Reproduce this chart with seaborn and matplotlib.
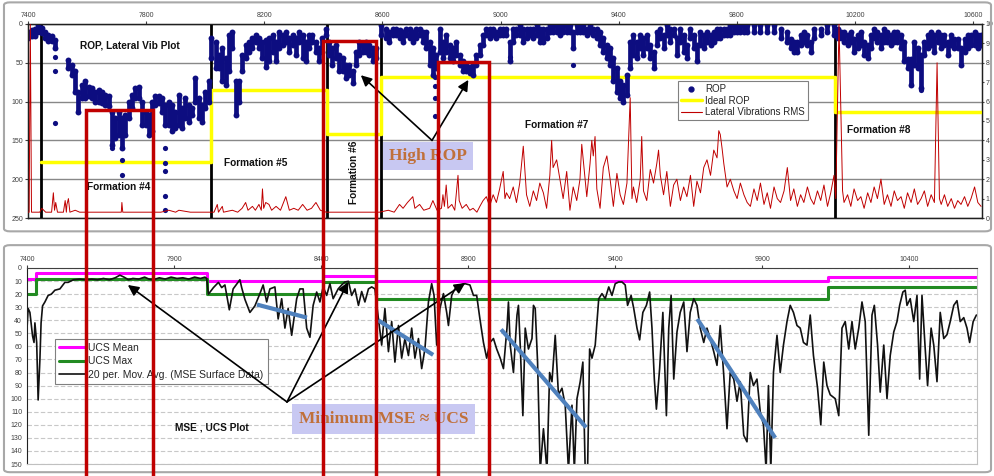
import matplotlib
matplotlib.use('Agg')
import matplotlib.pyplot as plt
import seaborn as sns
from matplotlib.lines import Line2D
from matplotlib.patches import Rectangle, FancyBboxPatch

sns.set_style('white')
plt.rcParams['font.family'] = ['Liberation Sans', 'DejaVu Sans']

# ---------------- top panel data: ROP (ft/hr) vs depth ----------------
rop_depth = [7401, 7413, 7424, 7435, 7447, 7458, 7469, 7481, 7492, 7537, 7548, 7560, 7571, 7582, 7594,
             7605, 7616, 7628, 7639, 7650, 7662, 7673, 7684, 7696, 7707, 7718, 7730, 7741, 7752, 7764,
             7775, 7786, 7798, 7809, 7820, 7831, 7843, 7854, 7865, 7877, 7888, 7899, 7911, 7922, 7933,
             7945, 7956, 7967, 7979, 7990, 8001, 8013, 8020, 8035, 8047, 8058, 8069, 8081, 8092, 8103,
             8114, 8126, 8137, 8148, 8160, 8171, 8182, 8194, 8205, 8216, 8228, 8239, 8250, 8262, 8273,
             8284, 8296, 8307, 8318, 8330, 8341, 8352, 8363, 8375, 8386, 8397, 8409, 8420, 8431, 8443,
             8454, 8465, 8477, 8488, 8499, 8511, 8522, 8533, 8545, 8556, 8567, 8579, 8596, 8613, 8624,
             8635, 8646, 8658, 8669, 8680, 8692, 8703, 8714, 8726, 8737, 8748, 8760, 8771, 8782, 8794,
             8805, 8816, 8828, 8839, 8850, 8862, 8873, 8884, 8896, 8907, 8918, 8929, 8941, 8952, 8963,
             8975, 8986, 8997, 9009, 9020, 9031, 9043, 9054, 9065, 9077, 9088, 9099, 9111, 9122, 9133,
             9145, 9156, 9167, 9178, 9190, 9201, 9212, 9224, 9235, 9246, 9258, 9269, 9280, 9292, 9303,
             9314, 9326, 9337, 9348, 9360, 9371, 9382, 9394, 9405, 9416, 9428, 9439, 9450, 9461, 9473,
             9484, 9495, 9507, 9518, 9529, 9541, 9552, 9563, 9575, 9586, 9597, 9609, 9620, 9631, 9643,
             9654, 9665, 9677, 9688, 9699, 9711, 9722, 9733, 9744, 9756, 9767, 9778, 9790, 9801, 9812,
             9824, 9835, 9858, 9880, 9903, 9926, 9948, 9971, 9982, 9993, 10005, 10016, 10027, 10039, 10050,
             10061, 10084, 10107, 10129, 10141, 10152, 10163, 10175, 10186, 10197, 10209, 10220, 10231, 10243, 10254,
             10265, 10276, 10288, 10299, 10310, 10322, 10333, 10344, 10356, 10367, 10378, 10390, 10401, 10412, 10424,
             10435, 10446, 10458, 10469, 10480, 10492, 10503, 10514, 10526, 10537, 10548, 10559, 10571, 10582, 10593,
             10605, 10616, 10627]
rop_low = [10, 8, 6, 1, 5, 10, 14, 16, 21, 46, 53, 61, 87, 78, 74,
           81, 83, 87, 85, 87, 91, 93, 113, 121, 113, 121, 117, 100, 91, 83,
           81, 100, 113, 117, 100, 93, 93, 96, 104, 100, 104, 113, 91, 108, 96,
           104, 108, 70, 96, 104, 87, 74, 18, 23, 40, 31, 44, 14, 10, 74,
           74, 40, 27, 23, 18, 14, 18, 23, 20, 18, 14, 23, 10, 14, 10,
           18, 14, 18, 10, 14, 23, 14, 14, 23, 31, 18, 6, 23, 31, 27,
           40, 44, 53, 53, 61, 36, 23, 27, 23, 27, 31, 31, 1, 6, 10,
           6, 6, 8, 10, 6, 6, 10, 6, 6, 10, 10, 23, 31, 40, 6,
           23, 14, 27, 31, 23, 40, 48, 53, 55, 53, 40, 27, 14, 6, 6,
           6, 10, 6, 6, 6, 23, 6, 6, 1, 6, 6, 6, 6, 1, 6,
           6, 6, 1, 1, 1, 1, 1, 1, 1, 10, 1, 1, 1, 6, 1,
           6, 6, 10, 18, 27, 31, 44, 57, 74, 79, 66, 23, 14, 23, 14,
           18, 14, 27, 36, 10, 6, 14, 1, 6, 6, 18, 6, 14, 27, 6,
           14, 27, 10, 14, 10, 14, 10, 6, 6, 6, 6, 1, 1, 1, 1,
           1, 1, 1, 1, 1, 1, 6, 10, 19, 23, 23, 14, 10, 14, 23,
           6, 6, 1, 1, 6, 10, 10, 14, 10, 19, 14, 10, 23, 27, 14,
           6, 10, 14, 6, 10, 14, 10, 10, 14, 23, 45, 45, 23, 31, 40,
           23, 14, 10, 14, 10, 14, 14, 23, 14, 19, 19, 31, 19, 14, 14,
           10, 14, 14]
rop_high = [18, 16, 16, 10, 12, 18, 22, 22, 31, 57, 66, 87, 113, 96, 96,
            93, 96, 100, 100, 102, 104, 106, 156, 147, 143, 160, 143, 121, 108, 96,
            96, 130, 130, 143, 138, 104, 102, 113, 130, 130, 138, 134, 130, 134, 121,
            126, 117, 100, 121, 126, 108, 100, 44, 57, 57, 74, 78, 61, 31, 117,
            100, 61, 44, 36, 31, 23, 31, 44, 55, 48, 36, 48, 31, 27, 23,
            36, 27, 40, 23, 44, 48, 31, 23, 36, 48, 36, 14, 40, 53, 44,
            61, 61, 70, 66, 76, 53, 40, 36, 36, 40, 48, 44, 14, 18, 23,
            14, 14, 18, 23, 14, 18, 23, 18, 14, 23, 31, 53, 66, 57, 36,
            44, 36, 44, 48, 40, 53, 61, 61, 63, 66, 53, 40, 27, 14, 18,
            14, 18, 14, 14, 14, 48, 23, 14, 14, 23, 18, 14, 18, 14, 23,
            23, 18, 10, 10, 10, 14, 10, 10, 10, 31, 10, 10, 10, 14, 10,
            14, 18, 27, 36, 44, 53, 74, 87, 96, 100, 91, 57, 40, 44, 31,
            40, 31, 44, 57, 27, 18, 31, 14, 23, 14, 40, 23, 36, 44, 18,
            31, 48, 27, 31, 23, 27, 23, 18, 18, 14, 14, 14, 10, 10, 10,
            10, 10, 10, 10, 10, 10, 18, 23, 31, 36, 36, 27, 23, 27, 36,
            18, 14, 10, 14, 18, 18, 23, 27, 23, 36, 31, 27, 40, 44, 31,
            18, 23, 31, 23, 23, 27, 23, 23, 31, 48, 57, 78, 53, 57, 83,
            40, 31, 27, 36, 23, 31, 27, 40, 27, 31, 31, 53, 36, 31, 27,
            27, 31, 27]
rop_stray_depth = [7492, 7492, 7492, 7684, 7718, 7718, 7865, 7865, 7865, 7865, 7865,
                   8777, 8777, 8777, 8777, 9031, 9246, 10424]
rop_stray_val = [43, 61, 128, 160, 175, 194, 160, 179, 190, 222, 240,
                 68, 80, 96, 119, 42, 53, 85]

# Ideal ROP per formation
form_tops = [7443, 8020, 8414, 8596, 10133]
ideal_depth = [7443, 8020, 8414, 8596, 10133, 10630]
ideal_rop = [178, 85, 142, 68, 113, 113]

# lateral vibrations RMS (right axis, g)
vib_depth = [7400, 7404, 7408, 7412, 7440, 7447, 7460, 7480, 7486, 7490, 7494, 7500, 7520, 7526, 7530,
             7532, 7537, 7542, 7560, 7575, 7600, 7650, 7700, 7716, 7718, 7721, 7780, 7850, 7877, 7900,
             7911, 7950, 8000, 8030, 8041, 8045, 8058, 8062, 8092, 8110, 8125, 8137, 8145, 8160, 8170,
             8182, 8190, 8194, 8198, 8205, 8216, 8225, 8240, 8255, 8273, 8278, 8285, 8300, 8315, 8330,
             8345, 8360, 8375, 8390, 8410, 8450, 8500, 8550, 8590, 8620, 8640, 8658, 8670, 8685, 8703,
             8710, 8726, 8740, 8760, 8771, 8785, 8800, 8805, 8810, 8816, 8822, 8835, 8845, 8856, 8860,
             8870, 8884, 8896, 8907, 8920, 8930, 8941, 8952, 8963, 8975, 8986, 8997, 9009, 9015, 9020,
             9031, 9043, 9054, 9065, 9077, 9088, 9099, 9111, 9122, 9133, 9145, 9156, 9167, 9173, 9178,
             9190, 9201, 9212, 9224, 9235, 9246, 9258, 9269, 9275, 9292, 9303, 9309, 9314, 9320, 9326,
             9337, 9348, 9360, 9371, 9382, 9394, 9405, 9416, 9428, 9439, 9445, 9450, 9461, 9473, 9478,
             9484, 9495, 9507, 9518, 9529, 9535, 9541, 9552, 9563, 9575, 9586, 9597, 9609, 9620, 9631,
             9643, 9654, 9665, 9677, 9688, 9699, 9711, 9722, 9733, 9739, 9744, 9750, 9756, 9767, 9778,
             9790, 9801, 9812, 9824, 9835, 9846, 9858, 9869, 9880, 9892, 9903, 9914, 9926, 9937, 9948,
             9960, 9971, 9982, 9993, 10005, 10016, 10027, 10039, 10050, 10061, 10073, 10084, 10095, 10107, 10118,
             10129, 10135, 10146, 10158, 10163, 10175, 10186, 10197, 10209, 10220, 10231, 10243, 10254, 10265, 10276,
             10288, 10299, 10310, 10322, 10333, 10344, 10356, 10367, 10378, 10390, 10401, 10412, 10424, 10435, 10446,
             10458, 10469, 10478, 10486, 10492, 10503, 10514, 10526, 10537, 10548, 10559, 10571, 10582, 10593, 10605,
             10616, 10627]
vib_rms = [0.3, 0.3, 10.0, 0.3, 0.3, 0.5, 0.3, 0.3, 1.3, 0.4, 0.8, 0.3, 0.3, 0.9, 0.3,
           0.7, 1.0, 0.3, 0.4, 0.3, 0.3, 0.3, 0.3, 0.3, 0.8, 0.3, 0.3, 0.3, 0.4, 0.3,
           0.4, 0.3, 0.3, 0.3, 0.7, 0.3, 0.6, 0.3, 0.4, 0.3, 0.5, 0.8, 0.4, 0.6, 0.4,
           0.7, 0.4, 1.5, 0.5, 0.8, 0.7, 0.4, 0.6, 0.4, 1.1, 0.8, 0.4, 0.5, 0.4, 0.7,
           0.4, 0.5, 0.8, 0.4, 0.3, 0.3, 0.3, 0.3, 0.3, 0.4, 0.3, 0.7, 0.5, 0.8, 1.1,
           0.5, 0.7, 0.4, 0.5, 0.9, 0.4, 0.5, 1.2, 0.6, 1.7, 0.5, 0.7, 0.4, 2.2, 0.9,
           0.5, 0.7, 0.4, 0.5, 0.3, 0.6, 0.9, 1.1, 0.6, 1.2, 0.8, 1.5, 2.4, 1.0, 1.3,
           1.0, 1.6, 0.8, 1.8, 3.7, 1.2, 0.6, 1.4, 0.9, 1.8, 1.3, 0.5, 2.2, 4.0, 2.6,
           3.0, 2.0, 1.0, 2.4, 0.4, 1.6, 0.9, 2.0, 3.8, 1.1, 2.8, 4.0, 3.2, 4.2, 1.5,
           0.5, 2.6, 3.2, 2.0, 0.6, 2.3, 1.2, 0.7, 1.8, 6.2, 1.0, 1.6, 0.8, 2.0, 4.2,
           1.4, 0.9, 2.5, 1.8, 2.8, 3.5, 2.2, 1.2, 2.4, 0.6, 1.7, 2.0, 0.9, 1.6, 1.1,
           2.2, 0.6, 1.9, 1.3, 2.6, 3.0, 2.2, 3.5, 3.1, 4.5, 4.3, 3.6, 2.8, 1.6, 2.0,
           1.4, 1.0, 1.8, 1.2, 0.8, 0.6, 1.5, 0.9, 1.8, 0.7, 1.3, 0.5, 1.6, 1.0, 0.8,
           1.4, 2.6, 0.9, 1.5, 0.6, 1.2, 0.8, 1.6, 1.0, 0.7, 1.4, 0.9, 1.7, 0.6, 1.3,
           2.2, 1.0, 10.0, 1.4, 0.8, 1.2, 0.6, 1.5, 0.9, 1.1, 0.5, 1.3, 0.8, 1.6, 1.0,
           2.0, 0.7, 1.2, 0.6, 1.4, 0.9, 1.1, 0.5, 1.3, 0.8, 1.5, 0.7, 1.0, 1.4, 0.6,
           1.2, 0.8, 8.0, 1.0, 0.7, 1.2, 0.6, 1.0, 0.5, 0.9, 0.7, 1.1, 0.6, 1.0, 1.6,
           0.8, 0.6]

# ---------------- bottom panel data: MSE / UCS (ksi) ----------------
ucs_depth = [7400, 7432, 8013, 8405, 8585, 10125, 10630]
ucs_mean = [8.5, 4, 10, 6, 10, 7, 7]
ucs_max = [20, 8.5, 20, 11, 24, 14.5, 14.5]

mse_depth = [7400, 7404, 7410, 7419, 7424, 7427, 7433, 7438, 7444, 7448, 7453, 7461, 7472, 7483, 7495,
             7512, 7529, 7540, 7558, 7580, 7600, 7620, 7640, 7660, 7680, 7700, 7716, 7730, 7745, 7760,
             7780, 7800, 7815, 7830, 7850, 7870, 7890, 7910, 7930, 7950, 7970, 7990, 8005, 8011, 8017,
             8034, 8051, 8062, 8073, 8088, 8101, 8124, 8130, 8141, 8158, 8175, 8192, 8203, 8215, 8226,
             8243, 8254, 8266, 8277, 8288, 8300, 8317, 8328, 8339, 8351, 8362, 8373, 8385, 8396, 8407,
             8419, 8430, 8441, 8458, 8470, 8481, 8493, 8504, 8515, 8527, 8538, 8549, 8561, 8572, 8583,
             8595, 8606, 8617, 8629, 8640, 8651, 8663, 8674, 8685, 8697, 8708, 8719, 8731, 8742, 8753,
             8765, 8776, 8784, 8793, 8804, 8816, 8827, 8833, 8844, 8855, 8872, 8889, 8906, 8918, 8929,
             8940, 8952, 8963, 8974, 8986, 8997, 9009, 9020, 9032, 9037, 9043, 9054, 9066, 9071, 9077,
             9086, 9094, 9105, 9117, 9122, 9128, 9136, 9145, 9156, 9168, 9177, 9185, 9196, 9207, 9219,
             9230, 9241, 9253, 9261, 9270, 9281, 9290, 9298, 9306, 9313, 9321, 9332, 9344, 9355, 9366,
             9378, 9389, 9400, 9412, 9423, 9434, 9442, 9454, 9463, 9474, 9483, 9494, 9506, 9517, 9525,
             9533, 9540, 9551, 9562, 9574, 9582, 9590, 9599, 9610, 9621, 9633, 9644, 9655, 9667, 9678,
             9689, 9701, 9712, 9723, 9735, 9746, 9757, 9769, 9780, 9791, 9803, 9814, 9825, 9837, 9848,
             9859, 9870, 9882, 9893, 9904, 9913, 9921, 9929, 9938, 9950, 9961, 9972, 9984, 9995, 10006,
             10018, 10029, 10040, 10052, 10063, 10074, 10088, 10099, 10109, 10120, 10131, 10148, 10160, 10171, 10182,
             10194, 10205, 10216, 10228, 10239, 10250, 10262, 10273, 10281, 10292, 10301, 10313, 10324, 10335, 10347,
             10358, 10367, 10378, 10386, 10392, 10403, 10415, 10426, 10435, 10443, 10454, 10462, 10474, 10483, 10494,
             10505, 10517, 10528, 10539, 10551, 10562, 10573, 10585, 10596, 10605, 10617, 10628]
mse_avg = [47, 31, 34, 52, 57, 42, 57, 101, 70, 42, 29, 26, 21, 20, 17,
           16, 11, 11, 9, 8.5, 9, 8.5, 9, 8, 9, 7.5, 5.5, 7, 9, 8,
           8.5, 7, 8.5, 9, 7.5, 8.5, 7, 8, 7.5, 8.5, 7, 8, 7, 8, 20,
           15, 11, 15, 13, 32, 16, 9, 15, 24, 34, 29, 19.6, 13, 26, 16,
           14.5, 39, 23.5, 46, 31, 51.5, 23.5, 16, 16, 46, 53, 28.6, 18.4, 26, 14.5,
           21, 12, 23.5, 16, 13, 10.7, 10.2, 21, 16, 28.6, 18, 26, 16, 14.5, 16,
           39, 59, 31, 64, 41, 72, 44, 69, 54, 67, 46, 69, 54, 77, 62,
           26, 12, 21, 59, 31, 19.6, 34, 44, 21, 16, 13, 12, 13, 21, 21,
           39, 57, 69, 57, 54, 62, 69, 77, 46, 26, 59, 80, 36, 28.6, 59,
           113, 46, 62, 54, 28.6, 31, 72, 155, 123, 155, 80, 87, 51.5, 97, 92,
           105, 155, 105, 155, 100, 87, 72, 155, 155, 62, 69, 59, 23.5, 19.6, 23.5,
           14.5, 21, 12, 10.7, 10.7, 13, 28.6, 21, 31, 46, 55, 34, 28.6, 18.4, 46,
           85, 108, 77, 34, 113, 46, 21, 85, 49, 34, 26, 64, 34, 23.5, 28.6,
           46, 57, 46, 54, 64, 74.5, 44, 82, 123, 80, 85, 102, 87, 128, 133,
           80, 90, 85, 110, 120, 155, 90, 155, 80, 51.5, 80, 59, 41, 28.6, 34,
           44, 46, 57, 59, 36, 67, 92, 120, 72, 90, 97, 100, 113, 46, 41,
           62, 41, 62, 46, 26, 41, 128, 36, 28.6, 59, 95, 59, 100, 67, 49,
           41, 28.6, 18.4, 17, 28.6, 23.5, 41, 21, 85, 21, 62, 90, 46, 59, 87,
           34, 54, 51, 41, 28.6, 25, 41, 38, 46, 57, 41, 36]

# annotation data
boxes_depth = [(7596, 7823), (8398, 8577), (8787, 8960)]
boxes_rop_top = [111, 21.5, 49]
trend_depth = [(8182, 8352), (8594, 8781), (9012, 9301), (9679, 9944)]
trend_mse = [(28, 38), (40, 66.5), (47, 122), (39, 130)]

navy = '#0d0d80'
dark_red = '#c00000'

fig = plt.figure(figsize=(9.95, 4.76), dpi=100)
fig.patch.set_facecolor('white')

# outer frames of both chart objects
for y0, h in [(0.514, 0.481), (0.008, 0.477)]:
    fig.add_artist(FancyBboxPatch((0.004, y0), 0.992, h, boxstyle='round,pad=0,rounding_size=0.006',
                                  transform=fig.transFigure, fill=False, ec='#a8a8a8', lw=1.5))

# ================= top panel =================
ax1 = fig.add_axes([0.0281, 0.542, 0.9588, 0.4076])
ax1.set_xlim(7400, 10630)
ax1.set_ylim(250, 0)
ax1.set_yticks(range(0, 251, 50))
ax1.set_xticks(range(7400, 10601, 400))
ax1.xaxis.tick_top()
ax1.grid(axis='y', color='#888888', lw=1.0)
ax1.grid(axis='x', visible=False)
ax1.tick_params(labelsize=5, colors='#404040', length=2, pad=1.5)
for s in ax1.spines.values():
    s.set_color('#202020')
    s.set_linewidth(1.0)

for d in form_tops:
    ax1.axvline(d, color='black', lw=2, zorder=3)

sns.lineplot(x=ideal_depth, y=ideal_rop, ax=ax1, color='#ffff00', lw=2.5,
             drawstyle='steps-post', estimator=None, sort=False, zorder=4)
ax1.vlines(rop_depth, rop_low, rop_high, color=navy, lw=3.4, zorder=5)
sns.scatterplot(x=rop_depth + rop_depth, y=rop_low + rop_high, ax=ax1, color=navy, s=18,
                linewidth=0, zorder=5)
sns.scatterplot(x=rop_stray_depth, y=rop_stray_val, ax=ax1, color=navy, s=14, linewidth=0, zorder=5)

ax1r = ax1.twinx()
ax1r.set_ylim(0, 10)
ax1r.set_yticks(range(0, 11))
ax1r.tick_params(labelsize=5, colors='#404040', length=1.5, pad=1)
for s in ax1r.spines.values():
    s.set_color('#202020')
sns.lineplot(x=vib_depth, y=vib_rms, ax=ax1r, color=dark_red, lw=0.7,
             estimator=None, sort=False, zorder=6)
ax1r.set_xlim(7400, 10630)

tkw = dict(fontsize=7.3, fontweight='bold', color='#111111', ha='center', va='center')
ax1.text(7745, 28, 'ROP, Lateral Vib Plot', **tkw)
ax1.text(7708, 210, 'Formation #4', **tkw)
ax1.text(8171, 179, 'Formation #5', **tkw)
ax1.text(8503, 191, 'Formation #6', rotation=90, **tkw)
ax1.text(9190, 130, 'Formation #7', **tkw)
ax1.text(10279, 136, 'Formation #8', **tkw)

leg1 = ax1r.legend(handles=[Line2D([], [], ls='none', marker='o', ms=3.5, color=navy),
                            Line2D([], [], color='#ffff00', lw=2.5),
                            Line2D([], [], color=dark_red, lw=0.8)],
                   labels=['ROP', 'Ideal ROP', 'Lateral Vibrations RMS'],
                   loc='upper left', bbox_to_anchor=(0.681, 0.705), fontsize=7,
                   frameon=True, fancybox=False, edgecolor='#808080', framealpha=1,
                   handlelength=2.2, labelspacing=0.15, borderpad=0.3, handletextpad=0.3,
                   borderaxespad=0)
leg1.get_frame().set_linewidth(0.8)

# ================= bottom panel =================
ax2 = fig.add_axes([0.0271, 0.0252, 0.9548, 0.4118])
ax2.set_xlim(7400, 10630)
ax2.set_ylim(150, 0)
ax2.set_yticks(range(0, 151, 10))
ax2.set_xticks(range(7400, 10401, 500))
ax2.xaxis.tick_top()
ax2.grid(axis='y', color='#c8c8c8', lw=0.8, ls=(0, (4, 2)))
ax2.tick_params(labelsize=5, colors='#404040', length=2, pad=1.5)
ax2.spines['left'].set_color('#202020')
ax2.spines['top'].set_color('#404040')
ax2.spines['right'].set_color('#c0c0c0')
ax2.spines['bottom'].set_color('#c0c0c0')

sns.lineplot(x=ucs_depth, y=ucs_mean, ax=ax2, color='#ff00ff', lw=2.2,
             drawstyle='steps-post', estimator=None, sort=False, label='UCS Mean')
sns.lineplot(x=ucs_depth, y=ucs_max, ax=ax2, color='#228b22', lw=2.2,
             drawstyle='steps-post', estimator=None, sort=False, label='UCS Max')
sns.lineplot(x=mse_depth, y=mse_avg, ax=ax2, color='#111111', lw=1.2,
             estimator=None, sort=False, label='20 per. Mov. Avg. (MSE Surface Data)')

for (d0, d1), (m0, m1) in zip(trend_depth, trend_mse):
    ax2.plot([d0, d1], [m0, m1], color='#4f81bd', lw=3, solid_capstyle='butt', zorder=6)

leg2 = ax2.legend(loc='upper left', bbox_to_anchor=(0.0295, 0.64), fontsize=7.5,
                  frameon=True, fancybox=False, edgecolor='#808080', framealpha=1,
                  handlelength=2.6, labelspacing=0.35, borderpad=0.4, handletextpad=0.2,
                  borderaxespad=0)
leg2.get_frame().set_linewidth(0.8)

ax2.text(8030, 122, 'MSE , UCS Plot', **tkw)

# ================= annotations =================
arrow_kw = dict(arrowstyle='-|>', color='black', lw=1.2, mutation_scale=16, shrinkA=0, shrinkB=0)
for tgt in [(8527, 66), (8891, 72)]:
    ax1.annotate('', xy=tgt, xytext=(8768, 150), arrowprops=arrow_kw, zorder=8)
for tgt in [(7743, 13), (8492, 10.7), (8890, 11.5)]:
    ax2.annotate('', xy=tgt, xytext=(8284, 102.5), arrowprops=arrow_kw, zorder=8)

to_fig = fig.transFigure.inverted()
for (d0, d1), top in zip(boxes_depth, boxes_rop_top):
    x0, y0 = to_fig.transform(ax1.transData.transform((d0, top)))
    x1, _ = to_fig.transform(ax1.transData.transform((d1, top)))
    fig.add_artist(Rectangle((x0, -0.01), x1 - x0, y0 + 0.01, transform=fig.transFigure,
                             fill=False, ec=dark_red, lw=2.5, zorder=20))

box_kw = dict(boxstyle='square,pad=0.35', fc='#c8c8f2', ec='none')
ax1.text(8755, 170, 'High ROP', family=['Liberation Serif', 'DejaVu Serif'], fontsize=12.5,
         fontweight='bold', color='#c0703a', ha='center', va='center', bbox=box_kw, zorder=30)
ax2.text(8612, 115.5, 'Minimum MSE \u2248 UCS', family=['Liberation Serif', 'DejaVu Serif'],
         fontsize=12.5, fontweight='bold', color='#c0703a', ha='center', va='center',
         bbox=dict(boxstyle='square,pad=0.4', fc='#c8c8f2', ec='none'), zorder=30)

fig.savefig('out.png', dpi=100, facecolor='white')
